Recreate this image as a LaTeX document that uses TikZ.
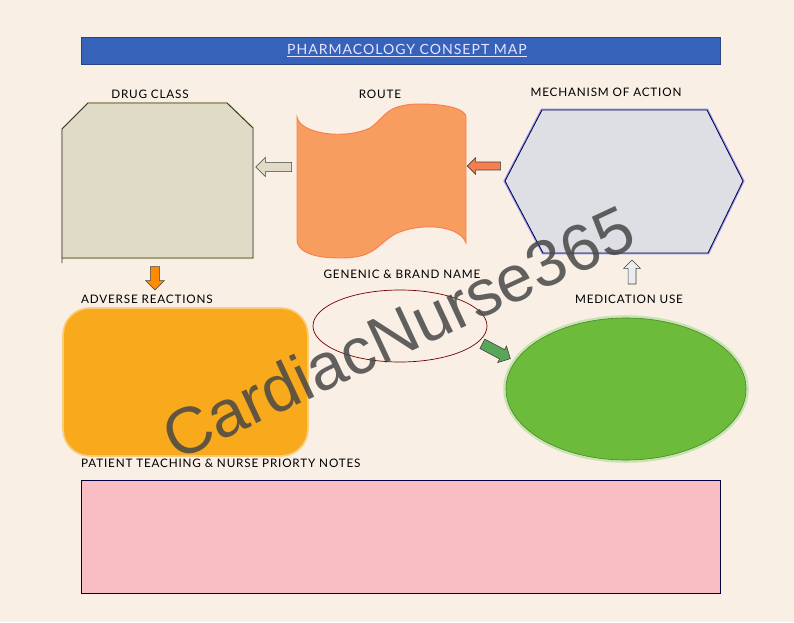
\documentclass[tikz,border=0pt]{standalone}
\usepackage{fontspec}
\setmainfont{Lato}
\newfontfamily\lblfont[LetterSpace=7]{Lato}
\newfontfamily\markfont{Liberation Sans}
\usetikzlibrary{shapes.arrows,shapes.geometric}
\definecolor{paper}{HTML}{F9EFE5}
\definecolor{titleblue}{HTML}{3762BA}
\definecolor{classgray}{HTML}{DFDBC7}
\definecolor{routeorange}{HTML}{F89D60}
\definecolor{mechgray}{HTML}{DDDFE4}
\definecolor{adverseyellow}{HTML}{F8AA1C}
\definecolor{usegreen}{HTML}{6DBB3A}
\definecolor{notespink}{HTML}{F9BEC4}
\tikzset{
  lbl/.style={font=\lblfont\fontsize{10}{12}\selectfont},
  blockarrow/.style={single arrow, draw=black!75, line width=0.5pt, inner xsep=0pt,
    inner ysep=0.13cm, single arrow head extend=0.15cm, minimum height=1cm}
}
\begin{document}
\begin{tikzpicture}[x=0.03cm, y=-0.03cm]
		\fill[paper] (0, 0) rectangle (794, 622);
		\useasboundingbox (0, 0) rectangle (794, 622);

		\draw[titleblue!70!black, fill=titleblue, line width=0.6pt] (81, 37) rectangle (720, 64);
			\node[font=\lblfont\fontsize{12}{14}\selectfont, text=white!90!blue] (title) at (407, 51){\underline{PHARMACOLOGY CONSEPT MAP}};

		\node[lbl] (classlbl) at (150, 94){DRUG CLASS};
		\node[lbl] (routelbl) at (380, 94){ROUTE};
		\node[lbl] (mechlbl) at (606, 92){MECHANISM OF ACTION};

		\draw[classgray!80!yellow, line width=2pt] (88, 103) -- (227, 103) -- (253, 128) -- (253, 258) -- (62, 258) -- (62, 129) -- cycle;
		\fill[classgray] (88, 103) -- (227, 103) -- (253, 128) -- (253, 258) -- (62, 258) -- (62, 129) -- cycle;
		\draw[black!80, line width=0.8pt] (62, 263) -- (62, 129) -- (88, 103) -- (227, 103) -- (253, 128) -- (253, 258) -- (62, 258);

		\draw[routeorange!80!red, fill=routeorange, line width=0.8pt] (297, 117)
			.. controls (300, 134) and (345, 140) .. (370, 128)
			.. controls (385, 118) and (385, 104) .. (420, 104)
			.. controls (450, 104) and (466, 110) .. (466, 117)
			-- (466, 243)
			.. controls (460, 225) and (420, 222) .. (395, 234)
			.. controls (375, 246) and (375, 258) .. (340, 258)
			.. controls (310, 258) and (297, 250) .. (297, 240) -- cycle;

		\draw[blue!30!mechgray, line width=2.5pt] (542, 110) -- (707, 110) -- (743, 181) -- (708, 253) -- (543, 253) -- (505, 181) -- cycle;
		\draw[blue!30!black, fill=mechgray, line width=0.7pt] (542, 110) -- (707, 110) -- (743, 181) -- (708, 253) -- (543, 253) -- (505, 181) -- cycle;

		\node[blockarrow, fill=classgray, rotate=180, minimum height=1.08cm] (toclass) at (276, 167){};
		\node[blockarrow, fill=routeorange!80!red, rotate=180, inner ysep=0.11cm, single arrow head extend=0.13cm] (toroute) at (486, 166){};
		\node[blockarrow, fill=orange!90!yellow, rotate=-90, minimum height=0.7cm, single arrow head extend=0.14cm] (toadverse) at (155, 276){};
		\node[blockarrow, fill=mechgray!60!white, rotate=90, minimum height=0.72cm, inner ysep=0.11cm, single arrow head extend=0.13cm] (tomech) at (632, 274){};

		%%%%%%%%%%%%%%%%%%%%%%%%%%%%
		\node[lbl] (namelbl) at (402, 274){GENENIC \& BRAND NAME};
		\node[lbl, anchor=west] (adverselbl) at (77, 299){ADVERSE REACTIONS};
		\node[lbl] (uselbl) at (629, 299){MEDICATION USE};

		\draw[adverseyellow!60!white, line width=3pt, rounded corners=22] (64, 309) rectangle (307, 455);
		\fill[adverseyellow, rounded corners=22] (64, 309) rectangle (307, 455);

		\node[ellipse, draw=red!45!black, line width=0.6pt, minimum width=5.22cm, minimum height=2.16cm] (names) at (400, 326){};
		\node[blockarrow, fill=green!30!gray, rotate=-28, minimum height=0.95cm, inner ysep=0.15cm, single arrow head extend=0.12cm] (touse) at (494, 350){};

		\node[ellipse, draw=usegreen!40!white, line width=3pt, minimum width=7.26cm, minimum height=4.32cm] (useglow) at (626, 389){};
		\node[ellipse, draw=usegreen!70!black, fill=usegreen, line width=0.5pt, minimum width=7.2cm, minimum height=4.26cm] (use) at (626, 389){};

		\node[lbl, anchor=west] (noteslbl) at (77, 463){PATIENT TEACHING \& NURSE PRIORTY NOTES};
		\draw[black!75!blue, fill=notespink, line width=0.8pt] (81, 480) rectangle (720, 593);

		\node[rotate=25, text=black!72, opacity=0.85, font=\markfont\fontsize{56}{60}\selectfont] (mark) at (398, 332){CardiacNurse365};
\end{tikzpicture}
\end{document}
